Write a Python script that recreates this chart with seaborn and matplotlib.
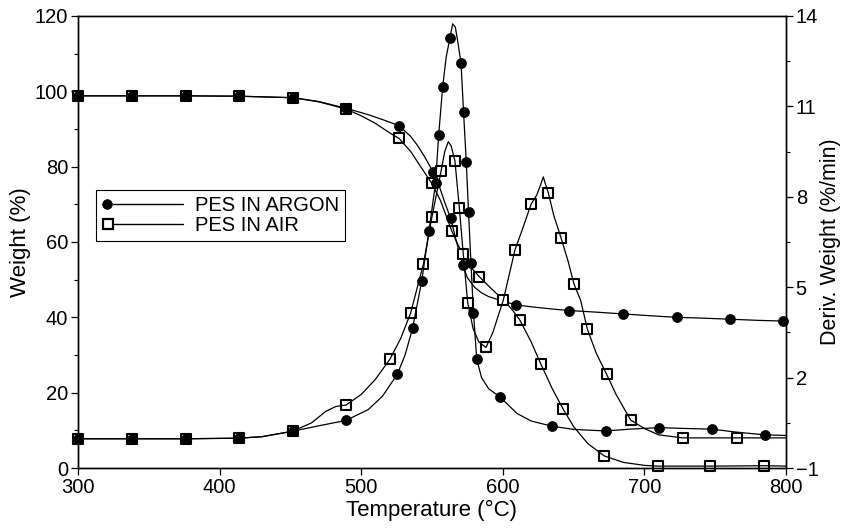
import matplotlib
matplotlib.use("Agg")
import matplotlib.pyplot as plt
import seaborn as sns
from matplotlib.lines import Line2D
from matplotlib.legend_handler import HandlerBase
from matplotlib.ticker import FixedLocator

# ---------------- data ----------------
# Weight curves (left axis, %)
argon_w_T = [300, 338, 376, 414, 452, 470, 489.3, 505, 515, 526.7, 535, 540, 545, 550.9, 555, 559,
             563.2, 567, 571.7, 575, 580, 585, 590, 600, 609.3, 620, 635, 647, 665, 685.1, 705,
             722.8, 740, 760.5, 780, 798.1, 800]
argon_w_W = [98.8, 98.8, 98.8, 98.7, 98.3, 97.3, 95.5, 93.8, 92.5, 90.9, 88.0, 85.5, 82.5, 78.5, 75.0, 70.5,
             66.3, 60.5, 53.9, 50.5, 48.0, 46.5, 45.5, 44.3, 43.3, 42.8, 42.2, 41.8, 41.4, 40.9, 40.4,
             40.0, 39.8, 39.5, 39.2, 39.0, 39.0]

air_w_T = [300, 338, 376, 414, 452, 470, 489.3, 500, 510, 520, 526.7, 535, 542, 549.8, 556, 563.9,
           568, 572, 577, 583.4, 590, 600.4, 606, 612, 620, 627, 635, 642.7, 650, 660, 671.7, 685,
           700, 709.4, 746.3, 784.5, 800]
air_w_W = [98.8, 98.8, 98.8, 98.7, 98.3, 97.2, 95.3, 93.5, 91.5, 89.0, 87.5, 84.0, 80.0, 75.6, 71.0, 63.0,
           59.5, 56.5, 53.5, 50.8, 48.3, 44.6, 42.3, 39.3, 33.5, 27.5, 21.0, 15.6, 11.0, 6.5, 3.2, 1.5,
           0.7, 0.5, 0.5, 0.6, 0.5]

# Derivative curves (right axis, %/min)
argon_d_T = [300, 338, 376, 414, 430, 451.6, 470, 489.3, 505, 515, 525.5, 531, 536.3, 542.7, 547.9,
             552.5, 554.7, 557.5, 560, 562.7, 564.6, 566.5, 568.5, 570.5, 572.3, 574.2, 575.8, 577.5,
             579.3, 581.6, 585, 590, 598, 610, 620, 634.5, 650, 672.6, 690, 710.5, 730, 747.5, 765,
             785.2, 800]
argon_d_D = [-0.03, -0.03, -0.03, -0.01, 0.04, 0.22, 0.40, 0.58, 0.94, 1.38, 2.11, 2.75, 3.64, 5.19, 6.88,
             8.45, 10.04, 11.63, 12.63, 13.28, 13.74, 13.63, 13.06, 12.43, 10.80, 9.16, 7.50, 5.81,
             4.14, 2.61, 2.00, 1.63, 1.36, 0.81, 0.56, 0.39, 0.28, 0.23, 0.29, 0.34, 0.31, 0.29, 0.19,
             0.10, 0.08]

air_d_T = [300, 338, 376, 414, 430, 451.6, 465, 475, 482, 489.3, 500, 510, 520.3, 528, 534.9, 543.9,
           550, 556.4, 559, 561.5, 563.5, 566.2, 569.3, 572.1, 575.2, 579, 583, 588.1, 593, 600.4,
           608.6, 614, 620, 624, 627, 628.6, 630, 632.1, 636, 641.1, 646, 650.3, 655, 659.7, 666,
           673.3, 680, 690.3, 700, 710, 727, 765.2, 800]
air_d_D = [-0.03, -0.03, -0.03, -0.01, 0.04, 0.22, 0.50, 0.88, 1.04, 1.09, 1.44, 1.94, 2.61, 3.31, 4.14, 5.76,
           7.34, 8.85, 9.50, 9.83, 9.69, 9.19, 7.64, 6.09, 4.49, 3.63, 3.19, 3.00, 3.50, 4.58,
           6.24, 6.94, 7.76, 8.06, 8.44, 8.66, 8.44, 8.14, 7.38, 6.64, 5.88, 5.10, 4.56, 3.61, 2.81,
           2.11, 1.44, 0.59, 0.31, 0.10, 0.00, 0.00, 0.00]

# Marker positions
argon_w_mT = [300, 338, 376, 414, 452, 489.3, 526.7, 550.9, 563.2, 571.7, 609.3, 647, 685.1, 722.8, 760.5, 798.1]
argon_w_mW = [98.8, 98.8, 98.8, 98.7, 98.3, 95.5, 90.9, 78.5, 66.3, 53.9, 43.3, 41.8, 40.9, 40.0, 39.5, 39.0]

air_w_mT = [300, 338, 376, 414, 452, 489.3, 526.7, 549.8, 563.9, 583.4, 612, 627, 642.7, 671.7, 709.4, 746.3, 784.5]
air_w_mW = [98.8, 98.8, 98.8, 98.7, 98.3, 95.3, 87.5, 75.6, 63.0, 50.8, 39.3, 27.5, 15.6, 3.2, 0.5, 0.5, 0.6]

argon_d_mT = [300, 338, 376, 414, 451.6, 489.3, 525.5, 536.3, 542.7, 547.9, 552.5, 554.7, 557.5, 562.7,
              570.5, 572.3, 574.2, 575.8, 577.5, 579.3, 581.6, 598, 634.5, 672.6, 710.5, 747.5, 785.2]
argon_d_mD = [-0.03, -0.03, -0.03, -0.01, 0.22, 0.58, 2.11, 3.64, 5.19, 6.88, 8.45, 10.04, 11.63, 13.28,
              12.43, 10.80, 9.16, 7.50, 5.81, 4.14, 2.61, 1.36, 0.39, 0.23, 0.34, 0.29, 0.10]

air_d_mT = [300, 338, 376, 414, 451.6, 489.3, 520.3, 534.9, 543.9, 550, 556.4, 566.2, 569.3, 572.1, 575.2,
            588.1, 600.4, 608.6, 620, 632.1, 641.1, 650.3, 659.7, 673.3, 690.3, 727, 765.2]
air_d_mD = [-0.03, -0.03, -0.03, -0.01, 0.22, 1.09, 2.61, 4.14, 5.76, 7.34, 8.85, 9.19, 7.64, 6.09, 4.49,
            3.00, 4.58, 6.24, 7.76, 8.14, 6.64, 5.10, 3.61, 2.11, 0.59, 0.00, 0.00]

x_ticks = [300, 400, 500, 600, 700, 800]
left_ticks = [0, 20, 40, 60, 80, 100, 120]
right_ticks = [-1, 2, 5, 8, 11, 14]
labels = ["PES IN ARGON", "PES IN AIR"]

# ---------------- figure ----------------
sns.set_theme(style="ticks")
plt.rcParams['font.family'] = ['Liberation Sans', 'DejaVu Sans']
FS_TICK = 14.5
FS_LAB = 16
FS_LEG = 14.5

fig = plt.figure(figsize=(8.43, 5.29), dpi=100)
ax = fig.add_axes([0.0925, 0.1153, 0.8399, 0.8545])
ax2 = ax.twinx()

LW = 0.9
SQ = dict(marker='s', s=56, color='white', edgecolor='black', linewidth=1.5, legend=False, clip_on=False)
CI = dict(marker='o', s=52, color='black', edgecolor='black', linewidth=0.5, legend=False, clip_on=False)

# weight curves
sns.scatterplot(x=air_w_mT, y=air_w_mW, ax=ax, zorder=2, **SQ)
sns.scatterplot(x=argon_w_mT, y=argon_w_mW, ax=ax, zorder=2.5, **CI)
sns.lineplot(x=air_w_T, y=air_w_W, ax=ax, color='black', linewidth=LW, sort=False, estimator=None, zorder=3)
sns.lineplot(x=argon_w_T, y=argon_w_W, ax=ax, color='black', linewidth=LW, sort=False, estimator=None, zorder=3)

# derivative curves
sns.scatterplot(x=air_d_mT, y=air_d_mD, ax=ax2, zorder=2, **SQ)
sns.scatterplot(x=argon_d_mT, y=argon_d_mD, ax=ax2, zorder=2.5, **CI)
sns.lineplot(x=air_d_T, y=air_d_D, ax=ax2, color='black', linewidth=LW, sort=False, estimator=None, zorder=3)
sns.lineplot(x=argon_d_T, y=argon_d_D, ax=ax2, color='black', linewidth=LW, sort=False, estimator=None, zorder=3)

ax.set_xlim(300, 800)
ax.set_ylim(0, 120)
ax2.set_ylim(-1, 14)
ax.set_xticks(x_ticks)
ax.set_yticks(left_ticks)
ax.yaxis.set_minor_locator(FixedLocator([10, 30, 50, 70, 90, 110]))
ax2.set_yticks(right_ticks)
ax2.yaxis.set_minor_locator(FixedLocator([0.5, 3.5, 6.5, 9.5, 12.5]))

for a in (ax, ax2):
    a.tick_params(which='major', direction='out', length=5, width=0.9, colors='black',
                  labelsize=FS_TICK, pad=2)
    a.tick_params(which='minor', direction='out', length=3, width=0.8, colors='black')
    for s in a.spines.values():
        s.set_color('black')
        s.set_linewidth(1.0)
        s.set_visible(True)

ax.set_xlabel("Temperature (°C)", fontsize=FS_LAB, color='black', labelpad=2)
ax.set_ylabel("Weight (%)", fontsize=FS_LAB, color='black', labelpad=3)
ax2.set_ylabel("Deriv. Weight (%/min)", fontsize=15.5, color='black', rotation=90, labelpad=1)


class MarkerThenLine(HandlerBase):
    def create_artists(self, legend, orig_handle, xdescent, ydescent, width, height, fontsize, trans):
        y = height / 2.0 - ydescent
        x0 = -xdescent
        ms = orig_handle.get_markersize()
        m = Line2D([x0 + ms * 0.5], [y], ls='none', marker=orig_handle.get_marker(), markersize=ms,
                   markerfacecolor=orig_handle.get_markerfacecolor(), markeredgecolor='black',
                   markeredgewidth=orig_handle.get_markeredgewidth(), transform=trans)
        l = Line2D([x0 + ms * 1.1, x0 + width], [y, y], color='black', lw=1.0, transform=trans)
        return [l, m]


h_argon = Line2D([], [], marker='o', markersize=7, markerfacecolor='black', markeredgewidth=0.5, color='black')
h_air = Line2D([], [], marker='s', markersize=7.5, markerfacecolor='white', markeredgewidth=1.6, color='black')
leg = ax2.legend([h_argon, h_air], labels, handler_map={Line2D: MarkerThenLine()},
                 loc='upper left', bbox_to_anchor=(0.026, 0.615), borderaxespad=0,
                 fontsize=FS_LEG, handlelength=4.0, handletextpad=0.6, labelspacing=0.05,
                 borderpad=0.3, fancybox=False, framealpha=1, edgecolor='black', labelcolor='black')
leg.get_frame().set_linewidth(0.8)
leg.set_zorder(10)

fig.savefig("out.png", dpi=100)
